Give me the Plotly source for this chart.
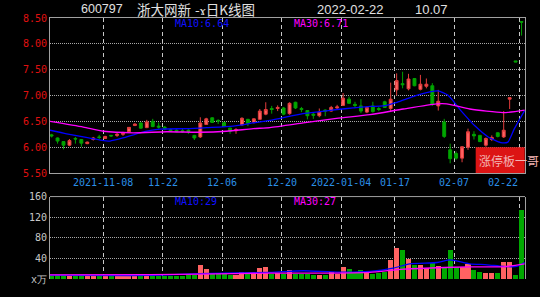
import plotly.graph_objects as go

# ---------------- data ----------------
tick_labels = ["2021-11-08", "11-22", "12-06", "12-20", "2022-01-04", "01-17", "02-07", "02-22"]
tick_index = [9, 19, 29, 39, 49, 58, 68, 79]

opens = [6.24, 6.18, 6.11, 6.04, 6.17, 6.15, 6.07, 6.15, 6.20, 6.17,
         6.23, 6.23, 6.25, 6.30, 6.42, 6.47, 6.38, 6.50, 6.41, 6.39,
         6.34, 6.33, 6.32, 6.33, 6.23, 6.20, 6.44, 6.57, 6.52, 6.48,
         6.37, 6.32, 6.43, 6.54, 6.48, 6.54, 6.64, 6.75, 6.75, 6.76,
         6.65, 6.87, 6.75, 6.71, 6.64, 6.61, 6.72, 6.70, 6.76, 6.81,
         6.93, 6.83, 6.80, 6.68, 6.80, 6.75, 6.88, 6.75, 7.11, 7.23,
         7.13, 7.33, 7.12, 7.18, 7.19, 6.80, 6.49, 5.95, 5.88, 5.79,
         6.00, 6.25, 6.23, 6.04, 6.15, 6.28, 6.20, 6.93, 7.67, 8.43]
highs = [6.26, 6.19, 6.12, 6.16, 6.20, 6.16, 6.11, 6.20, 6.24, 6.22,
         6.24, 6.28, 6.30, 6.39, 6.46, 6.48, 6.53, 6.55, 6.48, 6.41,
         6.36, 6.35, 6.36, 6.35, 6.24, 6.58, 6.57, 6.58, 6.54, 6.49,
         6.38, 6.37, 6.58, 6.55, 6.56, 6.74, 6.87, 6.80, 6.81, 6.78,
         6.87, 6.88, 6.78, 6.72, 6.67, 6.75, 6.73, 6.80, 6.82, 7.05,
         6.98, 6.88, 6.93, 6.79, 6.88, 6.78, 6.90, 7.25, 7.43, 7.46,
         7.42, 7.34, 7.40, 7.33, 7.24, 7.11, 6.55, 6.07, 5.92, 6.02,
         6.36, 6.31, 6.24, 6.19, 6.23, 6.29, 6.70, 6.96, 7.67, 8.43]
lows = [6.19, 6.07, 5.96, 6.02, 6.07, 6.01, 6.06, 6.13, 6.15, 6.16,
        6.20, 6.20, 6.22, 6.29, 6.41, 6.36, 6.37, 6.39, 6.36, 6.33,
        6.30, 6.29, 6.28, 6.26, 6.14, 6.18, 6.43, 6.47, 6.45, 6.39,
        6.26, 6.26, 6.42, 6.41, 6.46, 6.53, 6.62, 6.65, 6.70, 6.62,
        6.63, 6.74, 6.68, 6.54, 6.55, 6.58, 6.60, 6.69, 6.73, 6.80,
        6.84, 6.76, 6.66, 6.66, 6.67, 6.70, 6.76, 6.68, 7.00, 7.14,
        7.10, 7.18, 7.10, 7.14, 6.80, 6.71, 6.18, 5.69, 5.76, 5.71,
        5.95, 6.15, 6.10, 6.01, 6.12, 6.19, 6.18, 6.74, 7.65, 8.16]
closes = [6.22, 6.12, 6.04, 6.13, 6.16, 6.08, 6.10, 6.18, 6.19, 6.21,
          6.22, 6.25, 6.27, 6.385, 6.45, 6.37, 6.49, 6.40, 6.39, 6.35,
          6.32, 6.31, 6.30, 6.31, 6.18, 6.47, 6.55, 6.48, 6.51, 6.40,
          6.31, 6.34, 6.56, 6.46, 6.55, 6.70, 6.73, 6.73, 6.77, 6.64,
          6.85, 6.76, 6.73, 6.61, 6.62, 6.68, 6.70, 6.77, 6.78, 6.95,
          6.85, 6.81, 6.70, 6.77, 6.69, 6.73, 6.77, 6.93, 7.29, 7.21,
          7.32, 7.19, 7.22, 7.22, 6.83, 6.89, 6.21, 5.78, 5.79, 6.01,
          6.30, 6.22, 6.11, 6.17, 6.19, 6.21, 6.33, 6.96, 7.65, 8.42]
volumes = [7, 8, 9, 7, 6, 8, 6, 7, 6, 7,
           6, 7, 6, 9, 7, 7, 8, 7, 6, 6,
           7, 6, 7, 11, 8, 28.8, 21, 11.5, 9.6, 9.6,
           7.7, 7.7, 14.7, 9.6, 11.5, 23, 24.4, 9.6, 13.4, 11.5,
           17.9, 11.5, 11.5, 11.5, 7.7, 9, 9, 14.7, 9.6, 24.3,
           20.5, 14, 18.5, 16, 11.5, 12, 14, 37.7, 60.7, 56.9,
           39.6, 27.5, 28, 23, 31.9, 26.2, 23.7, 56.9, 24.3, 24.3,
           29.4, 17.9, 14, 12.8, 12.8, 12.8, 33.9, 33.9, 9, 135.6]

# moving-average lines (position in trading days, value)
ma10_pos = [-0.27, 2.54, 5.33, 8.14, 9.82, 12.0, 14.86, 18.22, 22.76, 26.12, 30.5, 33.85,
            36.7, 42.25, 45.1, 47.97, 50.66, 53.5, 55.7, 58.06, 60.75, 63.6, 64.95, 66.6,
            68.8, 71.1, 73.4, 75.5, 76.7, 77.8, 79.52]
ma10_val = [6.33, 6.26, 6.20, 6.14, 6.12, 6.18, 6.28, 6.35, 6.36, 6.38, 6.41, 6.47,
            6.52, 6.65, 6.69, 6.73, 6.76, 6.79, 6.80, 6.87, 6.98, 7.07, 7.09, 7.01,
            6.71, 6.42, 6.20, 6.09, 6.10, 6.36, 6.71]
ma30_pos = [-0.27, 5.33, 8.69, 13.7, 19.35, 24.9, 29.4, 33.9, 36.7, 42.3, 47.9, 53.5,
            59.1, 64.7, 66.4, 70.3, 75.9, 79.52]
ma30_val = [6.50, 6.39, 6.31, 6.28, 6.30, 6.29, 6.31, 6.36, 6.38, 6.47, 6.56, 6.63,
            6.74, 6.84, 6.84, 6.74, 6.67, 6.72]
vma10_pos = [-0.27, 16.5, 24.9, 36.7, 42.3, 48.0, 53.5, 57.4, 60.2, 64.8, 67.0, 70.3,
             73.2, 75.9, 78.2, 79.52]
vma10_val = [7.5, 7, 10.5, 12.9, 16, 13.4, 14.8, 21, 29.5, 32, 37, 29.5,
             27.6, 24.4, 24.4, 32]
vma30_pos = [-0.27, 16.5, 24.9, 36.7, 48.0, 53.5, 59.1, 64.8, 70.3, 75.9, 79.52]
vma30_val = [8, 8.5, 9.6, 11.5, 11.5, 12.8, 19, 21.8, 23.7, 23.7, 29.5]

price_ticks = [5.5, 6.0, 6.5, 7.0, 7.5, 8.0, 8.5]
vol_ticks = [0, 40, 80, 120, 160]
vol_tick_text = ["x万", "40", "80", "120", "160"]

# ---------------- layout helpers ----------------
W, H = 540, 297
ML, MR, MT, MB = 50, 15, 18, 14
PW, PH = W - ML - MR, H - MT - MB


def fx(p):
    return (p - ML) / PW


def fy(p):
    return (H - MB - p) / PH


n = len(opens)
idx = list(range(n))
grid_x = [t - 0.3 for t in tick_index]
xr = [-0.27, 79.58]

RED_FILL, RED_LINE = "#ff6262", "#e23c3c"
GRN_FILL, GRN_LINE = "#00a800", "#00a000"
MONO = "DejaVu Sans Mono"

fig = go.Figure()
fig.add_trace(go.Candlestick(
    x=idx, open=opens, high=highs, low=lows, close=closes,
    increasing=dict(line=dict(color=RED_LINE, width=1), fillcolor=RED_FILL),
    decreasing=dict(line=dict(color=GRN_LINE, width=1), fillcolor=GRN_FILL),
    xaxis="x", yaxis="y", showlegend=False, hoverinfo="skip"))
fig.add_trace(go.Scatter(x=ma10_pos, y=ma10_val, mode="lines",
                         line=dict(color="#0000ff", width=1.3, shape="spline", smoothing=0.6),
                         xaxis="x", yaxis="y", hoverinfo="skip"))
fig.add_trace(go.Scatter(x=ma30_pos, y=ma30_val, mode="lines",
                         line=dict(color="#ff00ff", width=1.3, shape="spline", smoothing=0.6),
                         xaxis="x", yaxis="y", hoverinfo="skip"))

bar_colors = [RED_FILL if c > o else GRN_FILL for o, c in zip(opens, closes)]
fig.add_trace(go.Bar(x=idx, y=volumes, marker=dict(color=bar_colors, line=dict(width=0)),
                     width=0.85, xaxis="x2", yaxis="y2", hoverinfo="skip"))
fig.add_trace(go.Scatter(x=vma10_pos, y=vma10_val, mode="lines",
                         line=dict(color="#0000ff", width=1.3, shape="spline", smoothing=0.6),
                         xaxis="x2", yaxis="y2", hoverinfo="skip"))
fig.add_trace(go.Scatter(x=vma30_pos, y=vma30_val, mode="lines",
                         line=dict(color="#ff00ff", width=1.3, shape="spline", smoothing=0.6),
                         xaxis="x2", yaxis="y2", hoverinfo="skip"))

vgrid = dict(showgrid=True, gridcolor="#c8c8c8", griddash="4px,3px", gridwidth=1)
hgrid = dict(showgrid=True, gridcolor="#a8a8a8", griddash="1px,1px", gridwidth=1)

fig.update_layout(
    width=W, height=H, margin=dict(l=ML, r=MR, t=MT, b=MB),
    paper_bgcolor="#000000", plot_bgcolor="#000000", showlegend=False,
    bargap=0,
    xaxis=dict(domain=[0, 1], range=xr, anchor="y", tickmode="array", tickvals=grid_x,
               showticklabels=False, ticks="", zeroline=False, showline=True, mirror=True,
               linecolor="#a0a0a0", linewidth=1, rangeslider=dict(visible=False), **vgrid),
    yaxis=dict(domain=[fy(175.5), 1], range=[5.5, 8.5], tickmode="array",
               tickvals=price_ticks, ticktext=["%.2f" % v for v in price_ticks],
               tickfont=dict(family=MONO, size=10, color="#e01010"), ticks="",
               zeroline=False, showline=True, mirror=True, linecolor="#a0a0a0", linewidth=1,
               **hgrid),
    xaxis2=dict(domain=[0, 1], range=xr, anchor="y2", tickmode="array", tickvals=grid_x,
                showticklabels=False, ticks="", zeroline=False, showline=False, **vgrid),
    yaxis2=dict(domain=[0, fy(199.3)], range=[0, 160], tickmode="array",
                tickvals=vol_ticks, ticktext=vol_tick_text,
                tickfont=dict(family=MONO, size=10, color="#c8c8c8"), ticks="",
                zeroline=False, showline=True, mirror=True, linecolor="#a0a0a0", linewidth=1,
                **hgrid),
)

shapes = [
    dict(type="line", xref="paper", yref="paper", x0=0, x1=1, y0=fy(199.3), y1=fy(199.3),
         line=dict(color="#a0a0a0", width=1)),
    dict(type="rect", xref="paper", yref="paper", x0=fx(475.7), x1=fx(524.7),
         y0=fy(175.3), y1=fy(149.3), fillcolor="#dc1414", line=dict(width=0), layer="above"),
]
fig.update_layout(shapes=shapes)

ann = []
# date labels under the price panel
for lab, gx, k in zip(tick_labels, grid_x, range(len(tick_labels))):
    last = k == len(tick_labels) - 1
    ann.append(dict(x=gx, y=fy(185.5), xref="x", yref="paper", text=lab, showarrow=False,
                    xanchor="right" if last else "center", yanchor="middle",
                    font=dict(family=MONO, size=10, color="#2b8fe6")))

title_col = "#e0e0e0"
for txt, x0, size, fam in [("600797", 79, 12.5, "Liberation Sans"),
                           ("浙大网新", 135, 13.5, "Noto Sans CJK SC"),
                           ("-ɤ日K线图", 192.5, 13.5, "Noto Sans CJK SC"),
                           ("2022-02-22", 315, 13, "Liberation Sans"),
                           ("10.07", 412.5, 13, "Liberation Sans")]:
    ann.append(dict(x=fx(x0), y=fy(9), xref="paper", yref="paper", text=txt, showarrow=False,
                    xanchor="left", yanchor="middle", font=dict(family=fam, size=size, color=title_col)))

for txt, x0, y0, col in [("MA10:6.64", 172.7, 23.3, "#1010ff"),
                         ("MA30:6.71", 291.7, 23.3, "#ff00ff"),
                         ("MA10:29", 172.7, 204.5, "#1010ff"),
                         ("MA30:27", 291.7, 204.5, "#ff00ff")]:
    ann.append(dict(x=fx(x0), y=fy(y0), xref="paper", yref="paper", text=txt, showarrow=False,
                    xanchor="left", yanchor="middle", font=dict(family=MONO, size=10, color=col)))

ann.append(dict(x=fx(476.5), y=fy(162.7), xref="paper", yref="paper", text="涨停板一哥",
                showarrow=False, xanchor="left", yanchor="middle",
                font=dict(family="Noto Sans CJK SC", size=12, color="#f2b4b4")))

fig.update_layout(annotations=ann)

fig.write_html("out.html")
